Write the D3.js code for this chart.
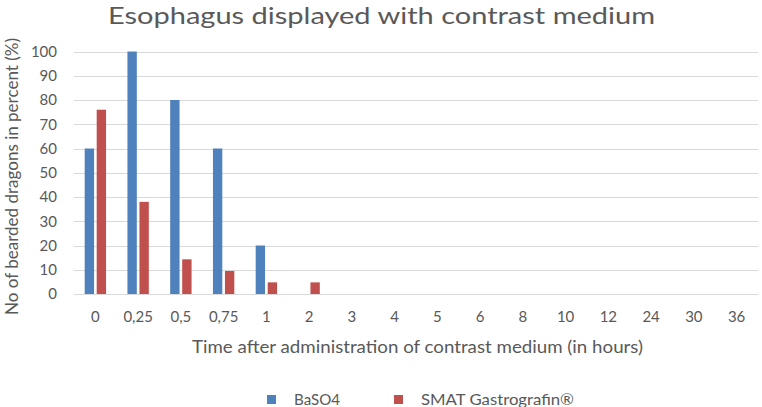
<!DOCTYPE html>
<html><head><meta charset="utf-8">
<script src="https://cdn.jsdelivr.net/npm/d3@7"></script>
<style>body{margin:0;background:#fff}svg{display:block}text{font-family:Lato,"Open Sans",sans-serif;fill:#595959}</style>
</head><body><svg id="c" width="762" height="407"></svg>
<script>
const categories = ["0","0,25","0,5","0,75","1","2","3","4","5","6","8","10","12","24","30","36"];
const baso4 = [60,100,80,60,20,0,0,0,0,0,0,0,0,0,0,0];
const gastrografin = [76,38,14.3,9.5,4.8,4.8,0,0,0,0,0,0,0,0,0,0];
const seriesNames = ["BaSO4","SMAT Gastrografin®"];
const colors = ["#4F81BD","#C0504D"];
const yTicks = [0,10,20,30,40,50,60,70,80,90,100];

const svg = d3.select("#c");
const m = {l:74, r:4};
const W = 762;
const x = d3.scaleBand().domain(categories).range([m.l, W - m.r]);
const y = d3.scaleLinear().domain([0,100]).range([294, 51.5]);
const x1 = d3.scaleBand().domain([0,1]).range([0, x.bandwidth()*0.5]).paddingInner(0.22);

// gridlines
svg.append("g").selectAll("line").data(yTicks).join("line")
  .attr("x1", m.l).attr("x2", W - m.r)
  .attr("y1", d => Math.round(y(d))+0.5).attr("y2", d => Math.round(y(d))+0.5)
  .attr("stroke", "#D9D9D9").attr("stroke-width", 1);

// y axis labels
const yAxis = d3.axisLeft(y).tickValues(yTicks).tickSize(0).tickPadding(0);
const ga = svg.append("g").attr("transform", "translate(57,0)").call(yAxis);
ga.select(".domain").remove();
ga.selectAll("text").style("font-size","15px").style("font-family","Lato,'Open Sans',sans-serif").attr("fill","#595959");

// x axis labels
const xAxis = d3.axisBottom(x).tickSize(0).tickPadding(0);
const gx = svg.append("g").attr("transform", "translate(0,311.5)").call(xAxis);
gx.select(".domain").remove();
gx.selectAll("text").style("font-size","15px").style("font-family","Lato,'Open Sans',sans-serif").attr("fill","#595959");

// bars
const data = categories.map((c,i) => ({c, v:[baso4[i], gastrografin[i]]}));
const groups = svg.append("g").selectAll("g").data(data).join("g")
  .attr("transform", d => `translate(${x(d.c) + x.bandwidth()*0.25},0)`);
groups.selectAll("rect").data(d => d.v.map((v,k)=>({v,k}))).join("rect")
  .attr("x", d => x1(d.k)).attr("width", x1.bandwidth())
  .attr("y", d => y(d.v)).attr("height", d => y(0) - y(d.v))
  .attr("fill", d => colors[d.k]);

// title
svg.append("text").attr("x", 108).attr("y", 23.5)
  .attr("textLength", 547).attr("lengthAdjust","spacingAndGlyphs")
  .style("font-size","23px").text("Esophagus displayed with contrast medium");

// axis titles
svg.append("text").attr("x", 192).attr("y", 353)
  .attr("textLength", 451).attr("lengthAdjust","spacingAndGlyphs")
  .style("font-size","17px").text("Time after administration of contrast medium (in hours)");
svg.append("text").attr("transform","translate(18,315) rotate(-90)")
  .attr("textLength", 277).attr("lengthAdjust","spacingAndGlyphs")
  .style("font-size","16.5px").text("No of bearded dragons in percent (%)");

// legend
const lx = [267, 394];
const lw = [46, 153];
const lg = svg.append("g").selectAll("g").data(seriesNames).join("g")
  .attr("transform", (d,i) => `translate(${lx[i]},394)`);
lg.append("rect").attr("width",9).attr("height",9).attr("y",1).attr("fill",(d,i)=>colors[i]);
lg.append("text").attr("x",27).attr("y",10.5)
  .attr("textLength",(d,i)=>lw[i]).attr("lengthAdjust","spacingAndGlyphs")
  .style("font-size","15px").text(d=>d);
</script></body></html>
